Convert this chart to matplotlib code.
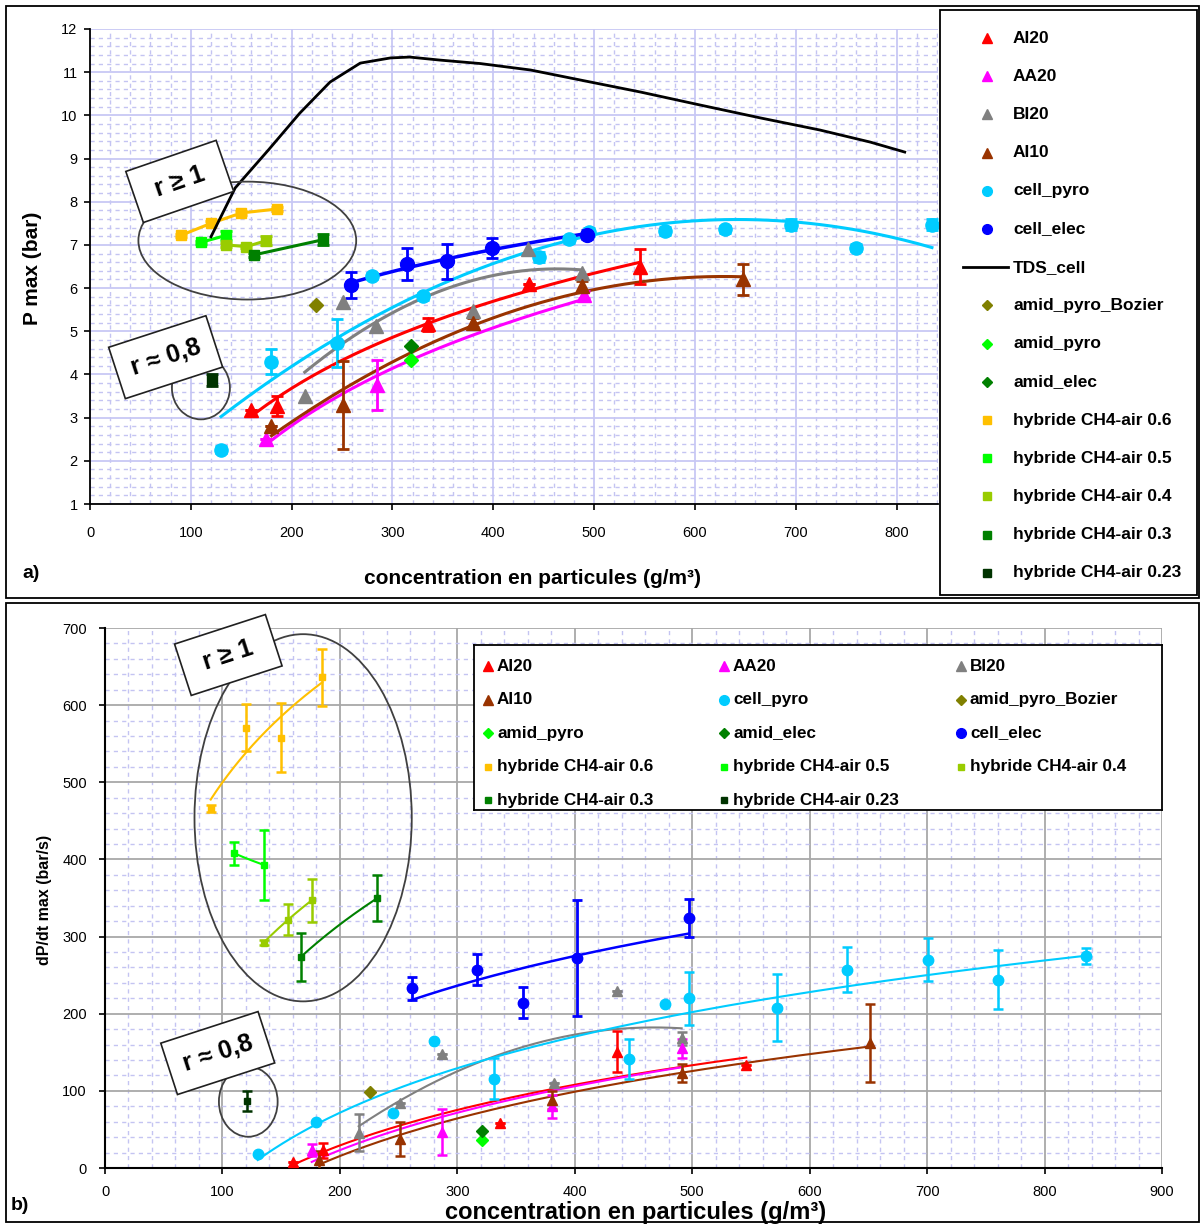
import numpy as np
import matplotlib
matplotlib.use('Agg')
import matplotlib.pyplot as plt
from matplotlib.patches import Ellipse, Rectangle

plt.rcParams['font.family'] = ['Liberation Sans', 'DejaVu Sans']

# ---------------- DATA : panel a) P max (bar) ----------------
a_al20_x = [160, 185, 335, 435, 545]
a_al20_y = [3.18, 3.26, 5.16, 6.10, 6.50]
a_al20_e = [0, 0.23, 0.15, 0, 0.40]

a_aa20_x = [175, 285, 490]
a_aa20_y = [2.50, 3.75, 5.85]
a_aa20_e = [0, 0.58, 0.08]

a_bi20_x = [213, 251, 284, 380, 434, 488]
a_bi20_y = [3.49, 5.68, 5.12, 5.46, 6.90, 6.36]
a_bi20_e = [0, 0, 0, 0, 0, 0]

a_al10_x = [180, 251, 380, 488, 648]
a_al10_y = [2.80, 3.30, 5.20, 6.04, 6.20]
a_al10_e = [0, 1.02, 0.10, 0.12, 0.35]

a_cpyro_x = [130, 180, 245, 280, 330, 445, 475, 495, 570, 630, 695, 760, 835]
a_cpyro_y = [2.26, 4.30, 4.73, 6.28, 5.81, 6.72, 7.13, 7.30, 7.32, 7.36, 7.47, 6.93, 7.47]
a_cpyro_e = [0.08, 0.28, 0.55, 0.08, 0.08, 0.12, 0.08, 0.10, 0.10, 0.08, 0.12, 0.08, 0.12]

a_celec_x = [259, 314, 354, 399, 493]
a_celec_y = [6.08, 6.55, 6.62, 6.93, 7.24]
a_celec_e = [0.30, 0.37, 0.40, 0.24, 0.10]

tds_x = [120, 144, 177, 208, 238, 268, 298, 317, 347, 387, 437, 486, 546, 605, 665, 724, 774, 808]
tds_y = [7.19, 8.32, 9.20, 10.05, 10.77, 11.21, 11.33, 11.35, 11.28, 11.20, 11.05, 10.82,
         10.54, 10.24, 9.94, 9.66, 9.38, 9.15]

a_bozier_x = [224]
a_bozier_y = [5.62]
a_apyro_x = [318]
a_apyro_y = [4.34]
a_aelec_x = [318]
a_aelec_y = [4.65]

a_h06_x = [90, 120, 150, 185]
a_h06_y = [7.22, 7.50, 7.74, 7.83]
a_h06_e = [0.04, 0.05, 0.04, 0.04]
a_h05_x = [110, 135]
a_h05_y = [7.06, 7.22]
a_h05_e = [0.04, 0.10]
a_h04_x = [135, 155, 175]
a_h04_y = [7.00, 6.96, 7.10]
a_h04_e = [0.04, 0.04, 0.10]
a_h03_x = [163, 231]
a_h03_y = [6.77, 7.12]
a_h03_e = [0.04, 0.13]
a_h023_x = [121]
a_h023_y = [3.88]
a_h023_e = [0.14]

# ---------------- DATA : panel b) dP/dt max (bar/s) ----------------
b_al20_x = [160, 186, 336, 436, 546]
b_al20_y = [8, 23, 58, 151, 134]
b_al20_e = [0, 10, 0, 26, 0]

b_aa20_x = [176, 287, 381, 491]
b_aa20_y = [23, 47, 80, 155]
b_aa20_e = [8, 30, 15, 12]

b_bi20_x = [216, 251, 287, 382, 436, 491]
b_bi20_y = [46, 84, 148, 110, 230, 168]
b_bi20_e = [24, 0, 0, 0, 0, 8]

b_al10_x = [182, 251, 381, 491, 651]
b_al10_y = [10, 38, 88, 123, 162]
b_al10_e = [12, 22, 12, 12, 50]

b_cpyro_x = [130, 180, 245, 280, 331, 446, 477, 497, 572, 632, 701, 760, 835]
b_cpyro_y = [18, 59, 71, 165, 116, 141, 213, 220, 208, 257, 270, 244, 275]
b_cpyro_e = [0, 0, 0, 0, 26, 26, 0, 34, 43, 29, 28, 38, 10]

b_celec_x = [261, 317, 356, 402, 497]
b_celec_y = [233, 257, 214, 272, 324]
b_celec_e = [15, 20, 20, 75, 25]

b_bozier_x = [226]
b_bozier_y = [99]
b_apyro_x = [321]
b_apyro_y = [36]
b_aelec_x = [321]
b_aelec_y = [48]

b_h06_x = [90, 120, 150, 185]
b_h06_y = [466, 571, 558, 636]
b_h06_e = [5, 30, 45, 37]
b_h05_x = [110, 135]
b_h05_y = [408, 393]
b_h05_e = [15, 45]
b_h04_x = [135, 156, 176]
b_h04_y = [292, 322, 347]
b_h04_e = [3, 20, 28]
b_h03_x = [167, 232]
b_h03_y = [274, 350]
b_h03_e = [31, 30]
b_h023_x = [121]
b_h023_y = [87]
b_h023_e = [13]

legend_labels = ['AI20', 'AA20', 'BI20', 'AI10', 'cell_pyro', 'cell_elec', 'TDS_cell',
                 'amid_pyro_Bozier', 'amid_pyro', 'amid_elec', 'hybride CH4-air 0.6',
                 'hybride CH4-air 0.5', 'hybride CH4-air 0.4', 'hybride CH4-air 0.3',
                 'hybride CH4-air 0.23']

# ---------------- styles ----------------
C = {
    'AI20': '#FF0000', 'AA20': '#FF00FF', 'BI20': '#808080', 'AI10': '#993300',
    'cell_pyro': '#00CCFF', 'cell_elec': '#0000FF', 'TDS_cell': '#000000',
    'amid_pyro_Bozier': '#808000', 'amid_pyro': '#00FF00', 'amid_elec': '#008000',
    'hybride CH4-air 0.6': '#FFC000', 'hybride CH4-air 0.5': '#00FF00',
    'hybride CH4-air 0.4': '#99CC00', 'hybride CH4-air 0.3': '#008000',
    'hybride CH4-air 0.23': '#003300',
}
M = {
    'AI20': '^', 'AA20': '^', 'BI20': '^', 'AI10': '^', 'cell_pyro': 'o', 'cell_elec': 'o',
    'amid_pyro_Bozier': 'D', 'amid_pyro': 'D', 'amid_elec': 'D',
    'hybride CH4-air 0.6': 's', 'hybride CH4-air 0.5': 's', 'hybride CH4-air 0.4': 's',
    'hybride CH4-air 0.3': 's', 'hybride CH4-air 0.23': 's',
}

W, H = 1201, 1225
fig = plt.figure(figsize=(W / 100, H / 100), dpi=100)


def rect(l, t, r, b):
    return [l / W, 1 - b / H, (r - l) / W, (b - t) / H]


def fit_curve(x, y, kind, n=200):
    x = np.asarray(x, float)
    y = np.asarray(y, float)
    xs = np.linspace(x.min(), x.max(), n)
    if kind == 'log':
        c = np.polyfit(np.log(x), y, 1)
        return xs, np.polyval(c, np.log(xs))
    if kind == 'poly2':
        c = np.polyfit(x, y, 2)
        return xs, np.polyval(c, xs)
    c = np.polyfit(x, y, 1)
    return xs, np.polyval(c, xs)


def series(ax, name, x, y, e=None, ms=8, cap=4.5, elw=2.0, line=False, lw=2.0, z=4):
    col = C[name]
    if e is not None:
        ax.errorbar(x, y, yerr=e, fmt='none', ecolor=col, elinewidth=elw, capsize=cap,
                    capthick=elw, zorder=z)
    ax.plot(x, y, linestyle='-' if line else 'none', lw=lw, color=col, marker=M[name],
            ms=ms, mec=col, mfc=col, zorder=z + 0.1)


def trend(ax, name, x, y, kind, lw=2.0, z=3):
    xs, ys = fit_curve(x, y, kind)
    ax.plot(xs, ys, color=C[name], lw=lw, zorder=z)


# ---------------- panel frames ----------------
fig.add_artist(Rectangle((6 / W, 1 - 598 / H), (1199 - 6) / W, (598 - 6) / H,
                         transform=fig.transFigure, fill=False, lw=1.3, ec='black'))
fig.add_artist(Rectangle((6 / W, 1 - 1222 / H), (1199 - 6) / W, (1222 - 603) / H,
                         transform=fig.transFigure, fill=False, lw=1.3, ec='black'))

# ================= panel a =================
ax1 = fig.add_axes(rect(90, 29, 938, 504))
ax1.set_xlim(0, 841)
ax1.set_ylim(1, 12)
ax1.set_xticks(np.arange(0, 801, 100))
ax1.set_yticks(np.arange(1, 13, 1))
ax1.set_xticks(np.arange(0, 841, 20), minor=True)
ax1.set_yticks(np.arange(1, 12.01, 0.2), minor=True)
ax1.grid(which='major', color='#C8C8F4', lw=1.3, ls='-', zorder=0)
ax1.grid(which='minor', color='#C4C4F2', lw=1.0, ls=(0, (3, 3)), zorder=0)
ax1.set_axisbelow(True)
ax1.tick_params(which='minor', length=0)
ax1.tick_params(which='major', direction='out', length=4, width=1.2, labelsize=10.5)
ax1.tick_params(axis='x', pad=12)
ax1.tick_params(axis='y', pad=5)
for s in ['top', 'right']:
    ax1.spines[s].set_visible(False)
for s in ['left', 'bottom']:
    ax1.spines[s].set_linewidth(1.3)

# trend lines
trend(ax1, 'AI20', a_al20_x, a_al20_y, 'log', lw=2.2)
trend(ax1, 'AA20', a_aa20_x, a_aa20_y, 'log', lw=2.2)
trend(ax1, 'BI20', a_bi20_x, a_bi20_y, 'poly2', lw=2.2)
trend(ax1, 'AI10', a_al10_x, a_al10_y, 'poly2', lw=2.2)
trend(ax1, 'cell_pyro', a_cpyro_x, a_cpyro_y, 'poly2', lw=2.2)
trend(ax1, 'cell_elec', a_celec_x, a_celec_y, 'log', lw=2.5)
ax1.plot(tds_x, tds_y, color='black', lw=2.0, zorder=5)

series(ax1, 'cell_pyro', a_cpyro_x, a_cpyro_y, a_cpyro_e, ms=9.5)
series(ax1, 'BI20', a_bi20_x, a_bi20_y, None, ms=10)
series(ax1, 'AI20', a_al20_x, a_al20_y, a_al20_e, ms=10)
series(ax1, 'AA20', a_aa20_x, a_aa20_y, a_aa20_e, ms=10)
series(ax1, 'AI10', a_al10_x, a_al10_y, a_al10_e, ms=10)
series(ax1, 'cell_elec', a_celec_x, a_celec_y, a_celec_e, ms=10)
series(ax1, 'amid_pyro_Bozier', a_bozier_x, a_bozier_y, None, ms=7.5)
series(ax1, 'amid_pyro', a_apyro_x, a_apyro_y, None, ms=7.5)
series(ax1, 'amid_elec', a_aelec_x, a_aelec_y, None, ms=7.5)
series(ax1, 'hybride CH4-air 0.6', a_h06_x, a_h06_y, a_h06_e, ms=7.5, line=True, lw=2.2)
series(ax1, 'hybride CH4-air 0.5', a_h05_x, a_h05_y, a_h05_e, ms=7.5, line=True, lw=2.2)
series(ax1, 'hybride CH4-air 0.4', a_h04_x, a_h04_y, a_h04_e, ms=7.5, line=True, lw=2.2)
series(ax1, 'hybride CH4-air 0.3', a_h03_x, a_h03_y, a_h03_e, ms=7.5, line=True, lw=2.2)
series(ax1, 'hybride CH4-air 0.23', a_h023_x, a_h023_y, a_h023_e, ms=7.5)

# annotations panel a
ax1.add_patch(Ellipse((156, 7.10), 216, 2.73, fill=False, ec='#404040', lw=1.3, zorder=6))
ax1.add_patch(Ellipse((110, 3.69), 57.5, 1.46, fill=False, ec='#404040', lw=1.3, zorder=6))
box = dict(boxstyle='square,pad=0.6', fc='white', ec='#202020', lw=1.2)
ax1.text(89, 8.47, ' r ≥ 1 ', rotation=19, ha='center', va='center', fontsize=18,
         fontweight='bold', bbox=box, zorder=8)
ax1.text(75, 4.40, 'r ≈ 0,8', rotation=18, ha='center', va='center', fontsize=18,
         fontweight='bold', bbox=box, zorder=8)

fig.text(533 / W, 1 - 578 / H, 'concentration en particules (g/m³)', ha='center', va='center',
         fontsize=15, fontweight='bold')
fig.text(33 / W, 1 - 268 / H, 'P max (bar)', ha='center', va='center', rotation=90,
         fontsize=15, fontweight='bold')
fig.text(31 / W, 1 - 573 / H, 'a)', ha='center', va='center', fontsize=14, fontweight='bold')

# legend panel a (manual)
lg1 = fig.add_axes(rect(940, 10, 1197, 595))
lg1.set_xlim(940, 1197)
lg1.set_ylim(595, 10)
lg1.axis('off')
lg1.add_patch(Rectangle((0, 0), 1, 1, transform=lg1.transAxes, fill=False, lw=1.3,
                        ec='black', clip_on=False))
for i, name in enumerate(legend_labels):
    yy = 38 + i * 38.2
    if name == 'TDS_cell':
        lg1.plot([963, 1008], [yy, yy], color='black', lw=2.0)
    else:
        ms = 7 if M[name] in '^o' else (5.5 if M[name] == 'D' else 6)
        lg1.plot([987], [yy], marker=M[name], color=C[name], ms=ms, ls='none')
    lg1.text(1013, yy, name, va='center', ha='left', fontsize=12.5, fontweight='bold')

# ================= panel b =================
ax2 = fig.add_axes(rect(105, 628, 1162, 1168))
ax2.set_xlim(0, 900)
ax2.set_ylim(0, 700)
ax2.set_xticks(np.arange(0, 901, 100))
ax2.set_yticks(np.arange(0, 701, 100))
ax2.set_xticks(np.arange(0, 901, 20), minor=True)
ax2.set_yticks(np.arange(0, 701, 20), minor=True)
ax2.grid(which='minor', color='#C4C4F2', lw=1.0, ls=(0, (3, 3)), zorder=0)
ax2.grid(which='major', color='#A8A8A8', lw=1.3, ls='-', zorder=0)
ax2.set_axisbelow(True)
ax2.tick_params(which='minor', length=0)
ax2.tick_params(which='major', direction='out', length=4, width=1.2, labelsize=10.5)
ax2.tick_params(axis='x', pad=8)
ax2.tick_params(axis='y', pad=9)
for s in ['top', 'right']:
    ax2.spines[s].set_visible(False)
for s in ['left', 'bottom']:
    ax2.spines[s].set_linewidth(1.5)

trend(ax2, 'AI20', b_al20_x, b_al20_y, 'log', lw=1.5)
trend(ax2, 'AA20', b_aa20_x, b_aa20_y, 'log', lw=1.5)
trend(ax2, 'BI20', b_bi20_x, b_bi20_y, 'poly2', lw=1.5)
trend(ax2, 'AI10', b_al10_x, b_al10_y, 'log', lw=1.5)
trend(ax2, 'cell_pyro', b_cpyro_x, b_cpyro_y, 'log', lw=1.5)
trend(ax2, 'cell_elec', b_celec_x, b_celec_y, 'log', lw=1.8)
trend(ax2, 'hybride CH4-air 0.6', b_h06_x, b_h06_y, 'log', lw=1.5)
trend(ax2, 'hybride CH4-air 0.5', b_h05_x, b_h05_y, 'log', lw=1.5)
trend(ax2, 'hybride CH4-air 0.4', b_h04_x, b_h04_y, 'log', lw=1.5)
trend(ax2, 'hybride CH4-air 0.3', b_h03_x, b_h03_y, 'log', lw=1.5)

series(ax2, 'cell_pyro', b_cpyro_x, b_cpyro_y, b_cpyro_e, ms=7.5, cap=3.5, elw=1.8)
series(ax2, 'BI20', b_bi20_x, b_bi20_y, b_bi20_e, ms=7.5, cap=3.5, elw=1.8)
series(ax2, 'AI20', b_al20_x, b_al20_y, b_al20_e, ms=7.5, cap=3.5, elw=1.8)
series(ax2, 'AA20', b_aa20_x, b_aa20_y, b_aa20_e, ms=7.5, cap=3.5, elw=1.8)
series(ax2, 'AI10', b_al10_x, b_al10_y, b_al10_e, ms=7.5, cap=3.5, elw=1.8)
series(ax2, 'cell_elec', b_celec_x, b_celec_y, b_celec_e, ms=7.5, cap=3.5, elw=2.0)
series(ax2, 'amid_pyro_Bozier', b_bozier_x, b_bozier_y, None, ms=6)
series(ax2, 'amid_pyro', b_apyro_x, b_apyro_y, None, ms=6)
series(ax2, 'amid_elec', b_aelec_x, b_aelec_y, None, ms=6)
for nm, xx, yy, ee in [('hybride CH4-air 0.6', b_h06_x, b_h06_y, b_h06_e),
                       ('hybride CH4-air 0.5', b_h05_x, b_h05_y, b_h05_e),
                       ('hybride CH4-air 0.4', b_h04_x, b_h04_y, b_h04_e),
                       ('hybride CH4-air 0.3', b_h03_x, b_h03_y, b_h03_e),
                       ('hybride CH4-air 0.23', b_h023_x, b_h023_y, b_h023_e)]:
    series(ax2, nm, xx, yy, ee, ms=4.5, cap=3.5, elw=1.8)

ax2.add_patch(Ellipse((168.7, 454), 185, 476, fill=False, ec='#404040', lw=1.3, zorder=6))
ax2.add_patch(Ellipse((122, 86), 50, 91, fill=False, ec='#404040', lw=1.3, zorder=6))
ax2.text(105, 665, ' r ≥ 1 ', rotation=18, ha='center', va='center', fontsize=18,
         fontweight='bold', bbox=box, zorder=8)
ax2.text(96, 149, 'r ≈ 0,8', rotation=18, ha='center', va='center', fontsize=18,
         fontweight='bold', bbox=box, zorder=8)

fig.text(636 / W, 1 - 1212 / H, 'concentration en particules (g/m³)', ha='center',
         va='center', fontsize=17, fontweight='bold')
fig.text(44 / W, 1 - 900 / H, 'dP/dt max (bar/s)', ha='center', va='center', rotation=90,
         fontsize=11.5, fontweight='bold')
fig.text(20 / W, 1 - 1205 / H, 'b)', ha='center', va='center', fontsize=14, fontweight='bold')

# legend panel b (manual)
lg2 = fig.add_axes(rect(474, 645, 1162, 810))
lg2.set_xlim(474, 1162)
lg2.set_ylim(810, 645)
lg2.set_xticks([])
lg2.set_yticks([])
lg2.set_facecolor('white')
for s in lg2.spines.values():
    s.set_linewidth(1.3)
b_order = ['AI20', 'AA20', 'BI20', 'AI10', 'cell_pyro', 'amid_pyro_Bozier', 'amid_pyro',
           'amid_elec', 'cell_elec', 'hybride CH4-air 0.6', 'hybride CH4-air 0.5',
           'hybride CH4-air 0.4', 'hybride CH4-air 0.3', 'hybride CH4-air 0.23']
colx = [488, 724, 961]
for i, name in enumerate(b_order):
    r, c = divmod(i, 3)
    yy = 666 + r * 33.5
    ms = 7 if M[name] in '^o' else (5.5 if M[name] == 'D' else 4.5)
    lg2.plot([colx[c]], [yy], marker=M[name], color=C[name], ms=ms, ls='none')
    lg2.text(colx[c] + 9, yy, name, va='center', ha='left', fontsize=12.3, fontweight='bold')

fig.savefig('out.png', dpi=100)
